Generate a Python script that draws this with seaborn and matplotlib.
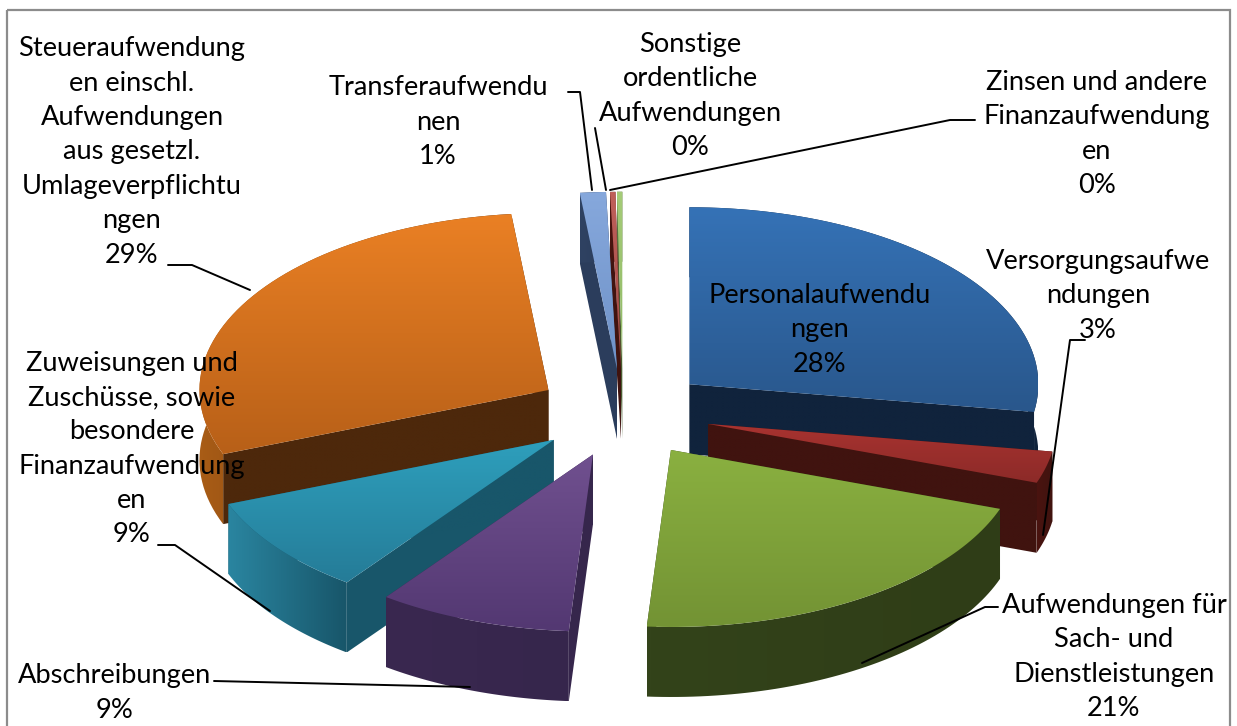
import numpy as np
import seaborn as sns
import matplotlib.pyplot as plt
from matplotlib.colors import LinearSegmentedColormap, to_rgb
from matplotlib.patches import Polygon, Rectangle

categories = ["Personalaufwendungen", "Versorgungsaufwendungen",
              "Aufwendungen für Sach- und Dienstleistungen", "Abschreibungen",
              "Zuweisungen und Zuschüsse", "Steueraufwendungen",
              "Transferaufwendungen", "Sonstige ordentliche Aufwendungen",
              "Zinsen und andere Finanzaufwendungen"]
shares = [27.5, 2.9, 20.7, 9.0, 9.0, 29.2, 1.2, 0.25, 0.25]

# label text, wrapped the way the original wraps it (percent is added later)
label_lines = ["Personalaufwendu\nngen", "Versorgungsaufwe\nndungen",
               "Aufwendungen für\nSach- und\nDienstleistungen", "Abschreibungen",
               "Zuweisungen und\nZuschüsse, sowie\nbesondere\nFinanzaufwendung\nen",
               "Steueraufwendung\nen einschl.\nAufwendungen\naus gesetzl.\nUmlageverpflichtu\nngen",
               "Transferaufwendu\nnen", "Sonstige\nordentliche\nAufwendungen",
               "Zinsen und andere\nFinanzaufwendung\nen"]
label_centers = [(820, 330), (1098, 296), (1114, 657), (115, 693),
                 (132, 449), (132, 152), (438, 122), (690, 96), (1097, 134)]

# top face (back, front), rim, cut face
top_back = ["#3572b6", "#a83330", "#8ab040", "#70508f", "#2e9fbc", "#ea8024", "#86a8dc", "#c0605a", "#a5cc78"]
top_front = ["#29578c", "#8c2a28", "#739334", "#533872", "#257c98", "#b86018", "#6f92c8", "#a04a46", "#8fb866"]
rim_colors = ["#122a48", "#4a1410", "#33431a", "#3a2850", "#2a85a0", "#a85c16", "#2f4262", "#4a1410", "#5a7040"]
cut_colors = ["#10233c", "#40130f", "#2f3d17", "#36264c", "#18566a", "#4d280b", "#2b3d5c", "#40130f", "#4a5c30"]

leaders = [([168, 192, 250], [265, 265, 290]),
           ([568, 580, 592], [92, 92, 190]),
           ([595, 606], [128, 190]),
           ([975, 950, 610], [120, 120, 190]),
           ([1085, 1070, 1043], [340, 340, 535]),
           ([998, 985, 862], [607, 607, 663]),
           ([214, 470], [681, 687]),
           ([158, 175, 270], [545, 545, 611])]

CX, CY = 623, 413
RX, RY = 349, 177
DEPTH = 70
EXPLODE = 0.25

sns.set_theme(style="white")
plt.rcParams["font.family"] = ["Lato", "DejaVu Sans"]

fig, ax = plt.subplots(figsize=(12.37, 7.26), dpi=100)
fig.subplots_adjust(left=0, right=1, bottom=0, top=1)
ax.set_axis_off()


def shade(xy, c1, c2, horizontal=False, z=2):
    cmap = LinearSegmentedColormap.from_list("f", [to_rgb(c1), to_rgb(c2)])
    grad = np.linspace(0, 1, 64)
    grad = grad[None, :] if horizontal else grad[:, None]
    x0, y0 = xy.min(axis=0)
    x1, y1 = xy.max(axis=0)
    im = ax.imshow(grad, cmap=cmap, extent=[x0, x1, y1, y0], aspect="auto", zorder=z, interpolation="bilinear")
    poly = Polygon(xy, closed=True, transform=ax.transData, facecolor="none", edgecolor="none")
    ax.add_patch(poly)
    im.set_clip_path(poly)


def point(theta, r=1.0):
    return np.array([r * RX * np.sin(theta), -r * RY * np.cos(theta)])


edges = np.radians(np.cumsum([0] + shares) * 3.6)

# back slices first so the front ones paint over them
mids = (edges[:-1] + edges[1:]) / 2
order = np.argsort(-np.cos(mids))
z = 2
for i in order:
    a0, a1 = edges[i], edges[i + 1]
    apex = np.array([CX, CY]) + point(mids[i], EXPLODE)
    arc = np.array([apex + point(t) for t in np.linspace(a0, a1, 60)])
    drop = np.array([0, DEPTH])

    cut0 = np.array([apex, arc[0], arc[0] + drop, apex + drop])
    cut1 = np.array([apex, arc[-1], arc[-1] + drop, apex + drop])
    rim = np.vstack([arc, arc[::-1] + drop])
    top = np.vstack([apex, arc])

    shade(cut0, cut_colors[i], cut_colors[i], z=z)
    shade(cut1, cut_colors[i], cut_colors[i], z=z + 0.1)
    shade(rim, rim_colors[i], cut_colors[i], horizontal=True, z=z + 0.2)
    shade(top, top_back[i], top_front[i], z=z + 0.3)
    z += 1

for xs, ys in leaders:
    sns.lineplot(x=xs, y=ys, sort=False, estimator=None, color="black", linewidth=1.4, ax=ax, zorder=50)

for text, share, (x, y) in zip(label_lines, shares, label_centers):
    ax.text(x, y, f"{text}\n{share:.0f}%", ha="center", va="center", fontsize=19.6,
            linespacing=1.47, color="black", zorder=60)

# frame runs off the bottom of the picture, as in the screenshot
ax.add_patch(Rectangle((7, 10), 1223, 730, fill=False, edgecolor="#8c8c8c", linewidth=1.6, zorder=70))
ax.set_xlim(0, 1237)
ax.set_ylim(726, 0)

fig.savefig("out.png", dpi=100, facecolor="white")
